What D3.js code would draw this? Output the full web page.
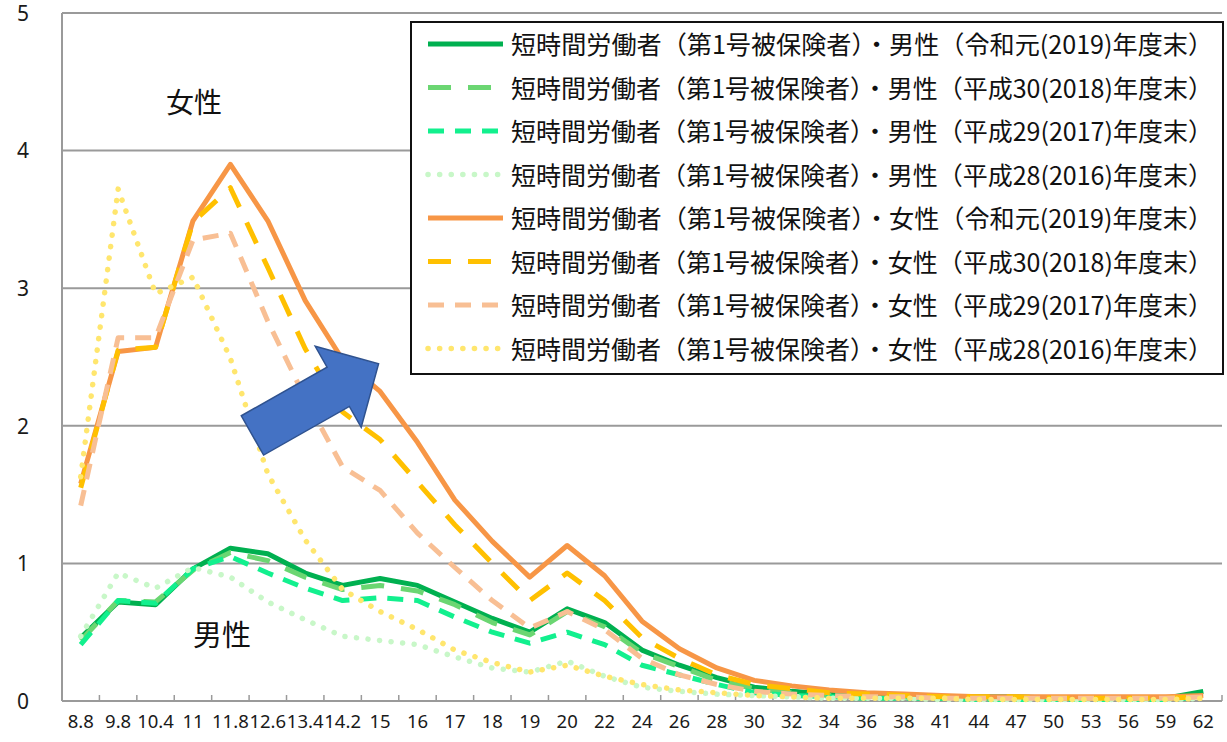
<!DOCTYPE html>
<html lang="ja">
<head>
<meta charset="utf-8">
<script src="https://cdn.jsdelivr.net/npm/d3@7"></script>
<style>
  html, body { margin: 0; padding: 0; background: #fff; }
  svg { display: block; }
  .cjk { font-family: "Noto Sans CJK JP", "Noto Sans CJK SC", sans-serif; }
  .num { font-family: "Noto Sans", "Open Sans", sans-serif; }
</style>
</head>
<body>
<div id="chart"></div>
<script>
// 賃金月額（万円）区分
const categories = ["8.8","9.8","10.4","11","11.8","12.6","13.4","14.2","15","16","17","18","19","20","22","24","26","28","30","32","34","36","38","41","44","47","50","53","56","59","62"];

// 男性
const male2019 = [0.46,0.72,0.70,0.96,1.11,1.07,0.93,0.84,0.89,0.84,0.72,0.60,0.50,0.67,0.57,0.37,0.26,0.17,0.10,0.07,0.05,0.04,0.03,0.03,0.03,0.03,0.02,0.02,0.02,0.02,0.07];
const male2018 = [0.44,0.73,0.72,0.95,1.08,1.02,0.90,0.81,0.84,0.80,0.70,0.57,0.48,0.65,0.54,0.35,0.25,0.15,0.09,0.06,0.04,0.03,0.03,0.02,0.02,0.02,0.02,0.02,0.02,0.02,0.04];
const male2017 = [0.41,0.73,0.71,0.96,1.05,0.93,0.82,0.73,0.75,0.73,0.61,0.50,0.42,0.50,0.41,0.26,0.19,0.12,0.06,0.04,0.03,0.02,0.02,0.02,0.01,0.01,0.01,0.01,0.01,0.01,0.03];
const male2016 = [0.47,0.93,0.82,0.97,0.90,0.72,0.59,0.47,0.44,0.41,0.32,0.24,0.21,0.29,0.18,0.10,0.07,0.05,0.04,0.03,0.02,0.02,0.02,0.01,0.01,0.01,0.01,0.01,0.01,0.01,0.02];

// 女性
const female2019 = [1.58,2.54,2.57,3.49,3.90,3.49,2.91,2.48,2.25,1.88,1.46,1.16,0.90,1.13,0.91,0.58,0.38,0.24,0.15,0.11,0.08,0.06,0.05,0.04,0.03,0.03,0.03,0.03,0.03,0.03,0.04];
const female2018 = [1.55,2.55,2.57,3.48,3.73,3.15,2.56,2.10,1.90,1.59,1.28,1.00,0.73,0.93,0.73,0.46,0.31,0.19,0.12,0.09,0.06,0.05,0.04,0.03,0.03,0.03,0.02,0.02,0.02,0.02,0.03];
const female2017 = [1.42,2.64,2.64,3.35,3.40,2.76,2.20,1.70,1.53,1.22,0.97,0.73,0.53,0.65,0.52,0.31,0.19,0.12,0.07,0.05,0.04,0.03,0.03,0.02,0.02,0.02,0.02,0.02,0.02,0.02,0.03];
const female2016 = [1.63,3.72,2.96,3.08,2.49,1.65,1.17,0.81,0.65,0.52,0.37,0.28,0.21,0.26,0.18,0.12,0.08,0.06,0.04,0.03,0.02,0.02,0.02,0.02,0.01,0.01,0.01,0.01,0.01,0.01,0.02];

const yTicks = [0, 1, 2, 3, 4, 5];

const seriesNames = [
  "短時間労働者（第1号被保険者）・男性（令和元(2019)年度末）",
  "短時間労働者（第1号被保険者）・男性（平成30(2018)年度末）",
  "短時間労働者（第1号被保険者）・男性（平成29(2017)年度末）",
  "短時間労働者（第1号被保険者）・男性（平成28(2016)年度末）",
  "短時間労働者（第1号被保険者）・女性（令和元(2019)年度末）",
  "短時間労働者（第1号被保険者）・女性（平成30(2018)年度末）",
  "短時間労働者（第1号被保険者）・女性（平成29(2017)年度末）",
  "短時間労働者（第1号被保険者）・女性（平成28(2016)年度末）"
];
const seriesValues = [male2019, male2018, male2017, male2016, female2019, female2018, female2017, female2016];

// line styles: solid / long dash / short dash / round dots
const styles = [
  { color: "#00b050", dash: null,      cap: "butt"  },
  { color: "#6bd672", dash: "23,17",   cap: "butt"  },
  { color: "#12f08e", dash: "16,11",   cap: "butt"  },
  { color: "#c8f7c8", dash: "0.1,11.5",cap: "round" },
  { color: "#f79646", dash: null,      cap: "butt"  },
  { color: "#ffc000", dash: "23,17",   cap: "butt"  },
  { color: "#f8bf94", dash: "16,11",   cap: "butt"  },
  { color: "#ffe66e", dash: "0.1,11.5",cap: "round" }
];

const W = 1227, H = 742;
const svg = d3.select("#chart").append("svg").attr("width", W).attr("height", H);

const x = d3.scaleBand().domain(categories).range([62, 1222]).padding(0);
const y = d3.scaleLinear().domain([0, 5]).range([701, 13]);
const cx = c => x(c) + x.bandwidth() / 2;

// gridlines
svg.append("g").selectAll("line").data(yTicks.filter(d => d > 0)).join("line")
  .attr("x1", 62).attr("x2", 1222)
  .attr("y1", d => y(d)).attr("y2", d => y(d))
  .attr("stroke", "#9a9a9a").attr("stroke-width", 2);

// left axis line
svg.append("line").attr("x1", 62).attr("x2", 62).attr("y1", y(5)).attr("y2", y(0))
  .attr("stroke", "#9a9a9a").attr("stroke-width", 2);

// y labels
const yAxis = d3.axisLeft(y).tickValues(yTicks).tickSize(0).tickPadding(0).tickFormat(d3.format("d"));
const gy = svg.append("g").attr("transform", "translate(23,0)").call(yAxis);
gy.select(".domain").remove();
gy.selectAll("text").attr("class", "num").attr("font-size", 21).attr("fill", "#1a1a1a")
  .attr("text-anchor", "middle").attr("dx", 0).attr("dy", "0.35em");

// bottom axis line with inward ticks on category boundaries
svg.append("line").attr("x1", 62).attr("x2", 1222).attr("y1", y(0)).attr("y2", y(0))
  .attr("stroke", "#9a9a9a").attr("stroke-width", 2);
svg.append("g").selectAll("line").data(categories).join("line")
  .attr("x1", d => x(d) + x.bandwidth()).attr("x2", d => x(d) + x.bandwidth())
  .attr("y1", y(0)).attr("y2", y(0) - 6)
  .attr("stroke", "#9a9a9a").attr("stroke-width", 1.5);

const xAxis = d3.axisBottom(x).tickSize(0).tickPadding(0);
const gx = svg.append("g").attr("transform", `translate(0,${y(0) + 21})`).call(xAxis);
gx.select(".domain").remove();
gx.selectAll("text").attr("class", "num").attr("font-size", 18.5).attr("fill", "#1a1a1a")
  .attr("dy", "0.35em");

// series lines
const line = d3.line().x((d, i) => cx(categories[i])).y(d => y(d));
const gl = svg.append("g");
seriesValues.forEach((vals, k) => {
  const s = styles[k];
  gl.append("path").datum(vals)
    .attr("d", line)
    .attr("fill", "none")
    .attr("stroke", s.color)
    .attr("stroke-width", k === 3 || k === 7 ? 5.5 : 5)
    .attr("stroke-linejoin", "round")
    .attr("stroke-linecap", s.cap)
    .attr("stroke-dasharray", s.dash);
});

// 女性 / 男性 labels
svg.append("text").attr("class", "cjk").attr("x", 194).attr("y", 101)
  .attr("text-anchor", "middle").attr("dominant-baseline", "central")
  .attr("font-size", 28).attr("fill", "#111").text("女性");
svg.append("text").attr("class", "cjk").attr("x", 222).attr("y", 633)
  .attr("text-anchor", "middle").attr("dominant-baseline", "central")
  .attr("font-size", 29).attr("fill", "#111").text("男性");

// trend arrow, defined in category-index / value space
const step = x.step();
const px = i => cx(categories[0]) + i * step;
const arrowTail = { i: 4.59, v: 1.93 };
const arrowTip = { i: 7.96, v: 2.45 };
(function drawArrow() {
  const x0 = px(arrowTail.i), y0 = y(arrowTail.v);
  const x1 = px(arrowTip.i), y1 = y(arrowTip.v);
  const dx = x1 - x0, dy = y1 - y0, len = Math.hypot(dx, dy);
  const ux = dx / len, uy = dy / len, nx = -uy, ny = ux;
  const shaftHalf = 22.6, headHalf = 46.6, headLen = 46.4;
  const bx = x1 - ux * headLen, by = y1 - uy * headLen;
  const pts = [
    [x0 - nx * shaftHalf, y0 - ny * shaftHalf],
    [bx - nx * shaftHalf, by - ny * shaftHalf],
    [bx - nx * headHalf, by - ny * headHalf],
    [x1, y1],
    [bx + nx * headHalf, by + ny * headHalf],
    [bx + nx * shaftHalf, by + ny * shaftHalf],
    [x0 + nx * shaftHalf, y0 + ny * shaftHalf]
  ];
  svg.append("polygon").attr("points", pts.map(p => p.join(",")).join(" "))
    .attr("fill", "#4472c4").attr("stroke", "#2f528f").attr("stroke-width", 1.5)
    .attr("stroke-linejoin", "miter");
})();

// legend
const lg = svg.append("g");
lg.append("rect").attr("x", 411).attr("y", 22).attr("width", 812).attr("height", 352)
  .attr("fill", "#fff").attr("stroke", "#111").attr("stroke-width", 2);
const rowY = i => 43 + i * 43.5;
seriesNames.forEach((name, k) => {
  const s = styles[k];
  lg.append("line").attr("x1", 428).attr("x2", 503)
    .attr("y1", rowY(k) + 1).attr("y2", rowY(k) + 1)
    .attr("stroke", s.color).attr("stroke-width", k === 3 || k === 7 ? 5.5 : 5)
    .attr("stroke-linecap", s.cap).attr("stroke-dasharray", s.dash);
  lg.append("text").attr("class", "cjk").attr("x", 511).attr("y", rowY(k))
    .attr("dominant-baseline", "central").attr("font-size", 25).attr("fill", "#111")
    .attr("textLength", 702).attr("lengthAdjust", "spacingAndGlyphs")
    .text(name);
});
</script>
</body>
</html>
